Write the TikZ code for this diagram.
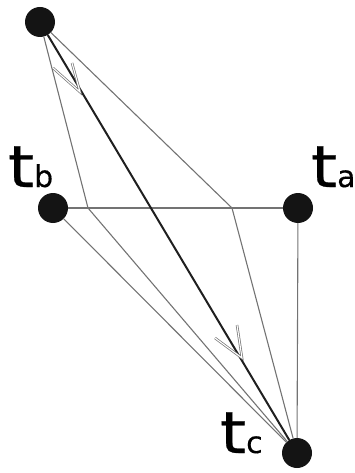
\documentclass[tikz,border=0pt]{standalone}
\usepackage{fontspec}
\setmainfont{DejaVu Sans}
\newfontfamily\labfont[FakeBold=0.4]{DejaVu Sans}
\newcommand{\bigt}{{\fontsize{58}{60}\selectfont\scalebox{1.15}[1]{t}}}
\begin{document}
\begin{tikzpicture}[x=1pt,y=-1pt,
  dot/.style={circle,fill=black!92,minimum size=30pt,inner sep=0pt},
  thin line/.style={draw=black!55,line width=1.1pt},
  main line/.style={draw=black!88,line width=2pt},
  barb/.style={draw=black!55,double=white,double distance=1.1pt,line width=0.7pt},
  lab/.style={anchor=base west,inner sep=0pt,outer sep=0pt,font=\labfont}]
\useasboundingbox (0,0) rectangle (355,473);
\node[dot] (top) at (40,22) {};
\node[dot] (tb) at (53,208) {};
\node[dot] (ta) at (298,208) {};
\node[dot] (tc) at (297,453) {};
\coordinate (L) at (88,208);
\coordinate (R) at (232,208);
\coordinate (tip1) at (80,92);
\coordinate (b1l) at (53,68);
\coordinate (b1r) at (72,63);
\coordinate (tip2) at (242,358);
\coordinate (b2l) at (215,338);
\coordinate (b2r) at (237,325);
\draw[thin line] (tb) -- (ta);
\draw[thin line] (ta) -- (tc);
\draw[thin line] (tb) -- (tc);
\draw[thin line] (top) -- (L) -- (tc);
\draw[thin line] (top) -- (R) -- (tc);
\draw[main line] (top) -- (tc);
\draw[barb] (b1l) -- (tip1) -- (b1r);
\draw[barb] (b2l) -- (tip2) -- (b2r);
\node[lab] (lb) at (8,187) {\bigt\fontsize{30}{32}\selectfont b};
\node[lab] (la) at (311,187) {\bigt\fontsize{30}{32}\selectfont a};
\node[lab] (lc) at (220,453) {\bigt\fontsize{30}{32}\selectfont c};
\end{tikzpicture}
\end{document}
